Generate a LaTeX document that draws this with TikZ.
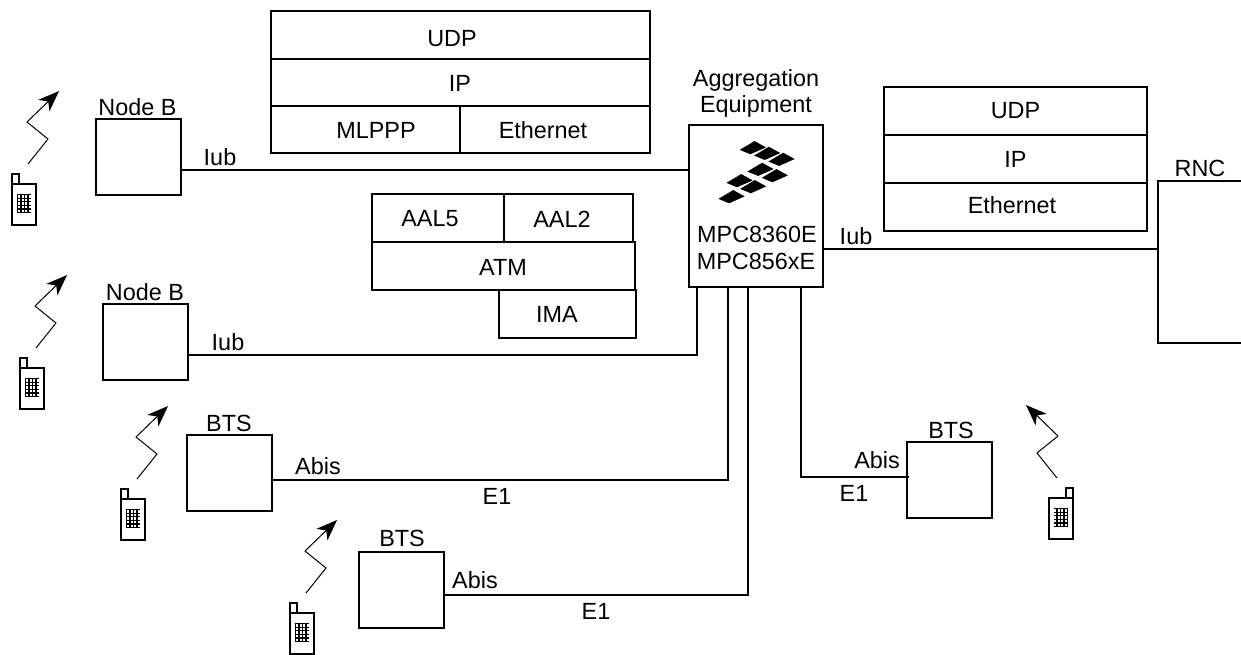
\documentclass[tikz,border=0pt]{standalone}
\usepackage{fontspec}
\setmainfont{Liberation Sans}
\usetikzlibrary{arrows.meta}
\tikzset{
  x=1pt,y=-1pt,
  lbl/.style={inner sep=0pt,outer sep=0pt,font=\fontsize{23.4}{27}\selectfont},
  cell/.style={lbl,draw=black,line width=2pt,anchor=center},
  site/.style={cell,minimum width=85pt,minimum height=76pt},
  link/.style={line width=2pt,line cap=rect},
  pics/phone/.style={code={
    \draw[line width=1.8pt] (0,0) rectangle (24,41);
    \draw[line width=1.8pt] (0,0) rectangle (7,-10);
    \fill (5,10) rectangle (19,29);
    \foreach \gx in {6.2,9.7,13.2,16.7}{\foreach \gy in {11.1,14.7,18.3,21.9,25.5}{\fill[white] (\gx,\gy) rectangle +(2.1,2.4);}}
    \draw[line width=1pt,-{Stealth[length=21pt,width=16pt,inset=6pt]}] (16,-20) -- (36,-45) -- (15,-62) -- (47,-93);
  }}
}
\begin{document}
\begin{tikzpicture}
\useasboundingbox (0,0) rectangle (1241,654);
% sites
\node[site] (nb1) at (138,157) {};
\node[site] (nb2) at (145.5,342) {};
\node[site] (bts1) at (229.5,473) {};
\node[site] (bts2) at (401.5,590) {};
\node[site] (bts3) at (949,479.5) {};
\node[cell,minimum width=134pt,minimum height=162pt] (agg) at (756,206) {};
% upper stack
\node[cell,minimum width=379pt,minimum height=48pt] (udpa) at (460.5,35) {};
\node[cell,minimum width=379pt,minimum height=47pt] (ipa) at (460.5,82.5) {};
\node[cell,minimum width=189pt,minimum height=47pt] (mlppp) at (365.5,129.5) {};
\node[cell,minimum width=190pt,minimum height=47pt] (etha) at (555,129.5) {};
\node[lbl] (udpat) at (452,39) {UDP};
\node[lbl] (ipat) at (460,83) {IP};
\node[lbl] (mlpppt) at (376,130) {MLPPP};
\node[lbl] (ethat) at (543,130) {Ethernet};
% ATM stack
\node[cell,minimum width=132pt,minimum height=48pt] (aal5) at (438,218) {};
\node[cell,minimum width=129pt,minimum height=48pt] (aal2) at (568.5,218) {};
\node[cell,minimum width=263pt,minimum height=47.5pt] (atm) at (503.5,265.75) {};
\node[cell,minimum width=137pt,minimum height=48.5pt] (ima) at (567.5,313.75) {};
\node[lbl] (aal5t) at (430,219) {AAL5};
\node[lbl] (aal2t) at (562,219) {AAL2};
\node[lbl] (atmt) at (503,267) {ATM};
\node[lbl] (imat) at (557,314) {IMA};
% right stack
\node[cell,minimum width=263pt,minimum height=48pt] (udpb) at (1015.5,111) {UDP};
\node[cell,minimum width=263pt,minimum height=48pt] (ipb) at (1015.5,159) {IP};
\node[cell,minimum width=263pt,minimum height=48pt] (ethb) at (1015.5,207) {};
\node[lbl] (ethbt) at (1012,205) {Ethernet};
% labels
\node[lbl] (t1) at (137.5,107) {Node B};
\node[lbl] (t2) at (145,292) {Node B};
\node[lbl] (t3) at (220,157) {Iub};
\node[lbl] (t4) at (228,342) {Iub};
\node[lbl] (t5) at (229,423) {BTS};
\node[lbl] (t6) at (318,466) {Abis};
\node[lbl] (t7) at (497,496) {E1};
\node[lbl] (t8) at (402,538) {BTS};
\node[lbl] (t9) at (475,580) {Abis};
\node[lbl] (t10) at (596,611) {E1};
\node[lbl] (t11) at (877,460) {Abis};
\node[lbl] (t12) at (854,493) {E1};
\node[lbl] (t13) at (951,430) {BTS};
\node[lbl] (t14) at (756,80) {Aggregation};
\node[lbl] (t15) at (756,106) {Equipment};
\node[lbl] (t16) at (757,234.5) {MPC8360E};
\node[lbl] (t17) at (756,261) {MPC856xE};
\node[lbl] (t18) at (856,236) {Iub};
\node[lbl] (t19) at (1200,168) {RNC};
% connectors
\coordinate (c1) at (689,170);
\coordinate (c2) at (697,355);
\coordinate (c3) at (728,480);
\coordinate (c4) at (748,595);
\coordinate (c5) at (801,477);
\coordinate (c5e) at (908,477);
\coordinate (c6) at (823,249);
\coordinate (rtop) at (1241,180.5);
\coordinate (rbot) at (1241,343);
\coordinate (rl) at (1158,249);
\draw[link] (nb1.east |- c1) -- (c1);
\draw[link] (nb2.east |- c2) -- (c2) -- (c2 |- agg.south);
\draw[link] (bts1.east |- c3) -- (c3) -- (c3 |- agg.south);
\draw[link] (bts2.east |- c4) -- (c4) -- (c4 |- agg.south);
\draw[link] (c5e) -- (c5) -- (c5 |- agg.south);
\draw[link] (c6) -- (rl);
\draw[link] (rtop) -- (rl |- rtop) -- (rl |- rbot) -- (rbot);
% logo
\foreach \cx/\cy in {112/38,155/55,198/73,135/103,178/122,72/137,113/155,48/185}{
  \fill[shift={({715+\cx/3},{135+\cy/3})}] (-12.6,2.2) -- (2.2,-6.6) -- (13.6,-0.3) -- (-1.9,6.6) -- cycle;
}
% phones
\pic at (12,184) {phone};
\pic at (20,368) {phone};
\pic at (121,499) {phone};
\pic at (290,613) {phone};
\pic[xscale=-1] at (1073,498) {phone};
\end{tikzpicture}
\end{document}
